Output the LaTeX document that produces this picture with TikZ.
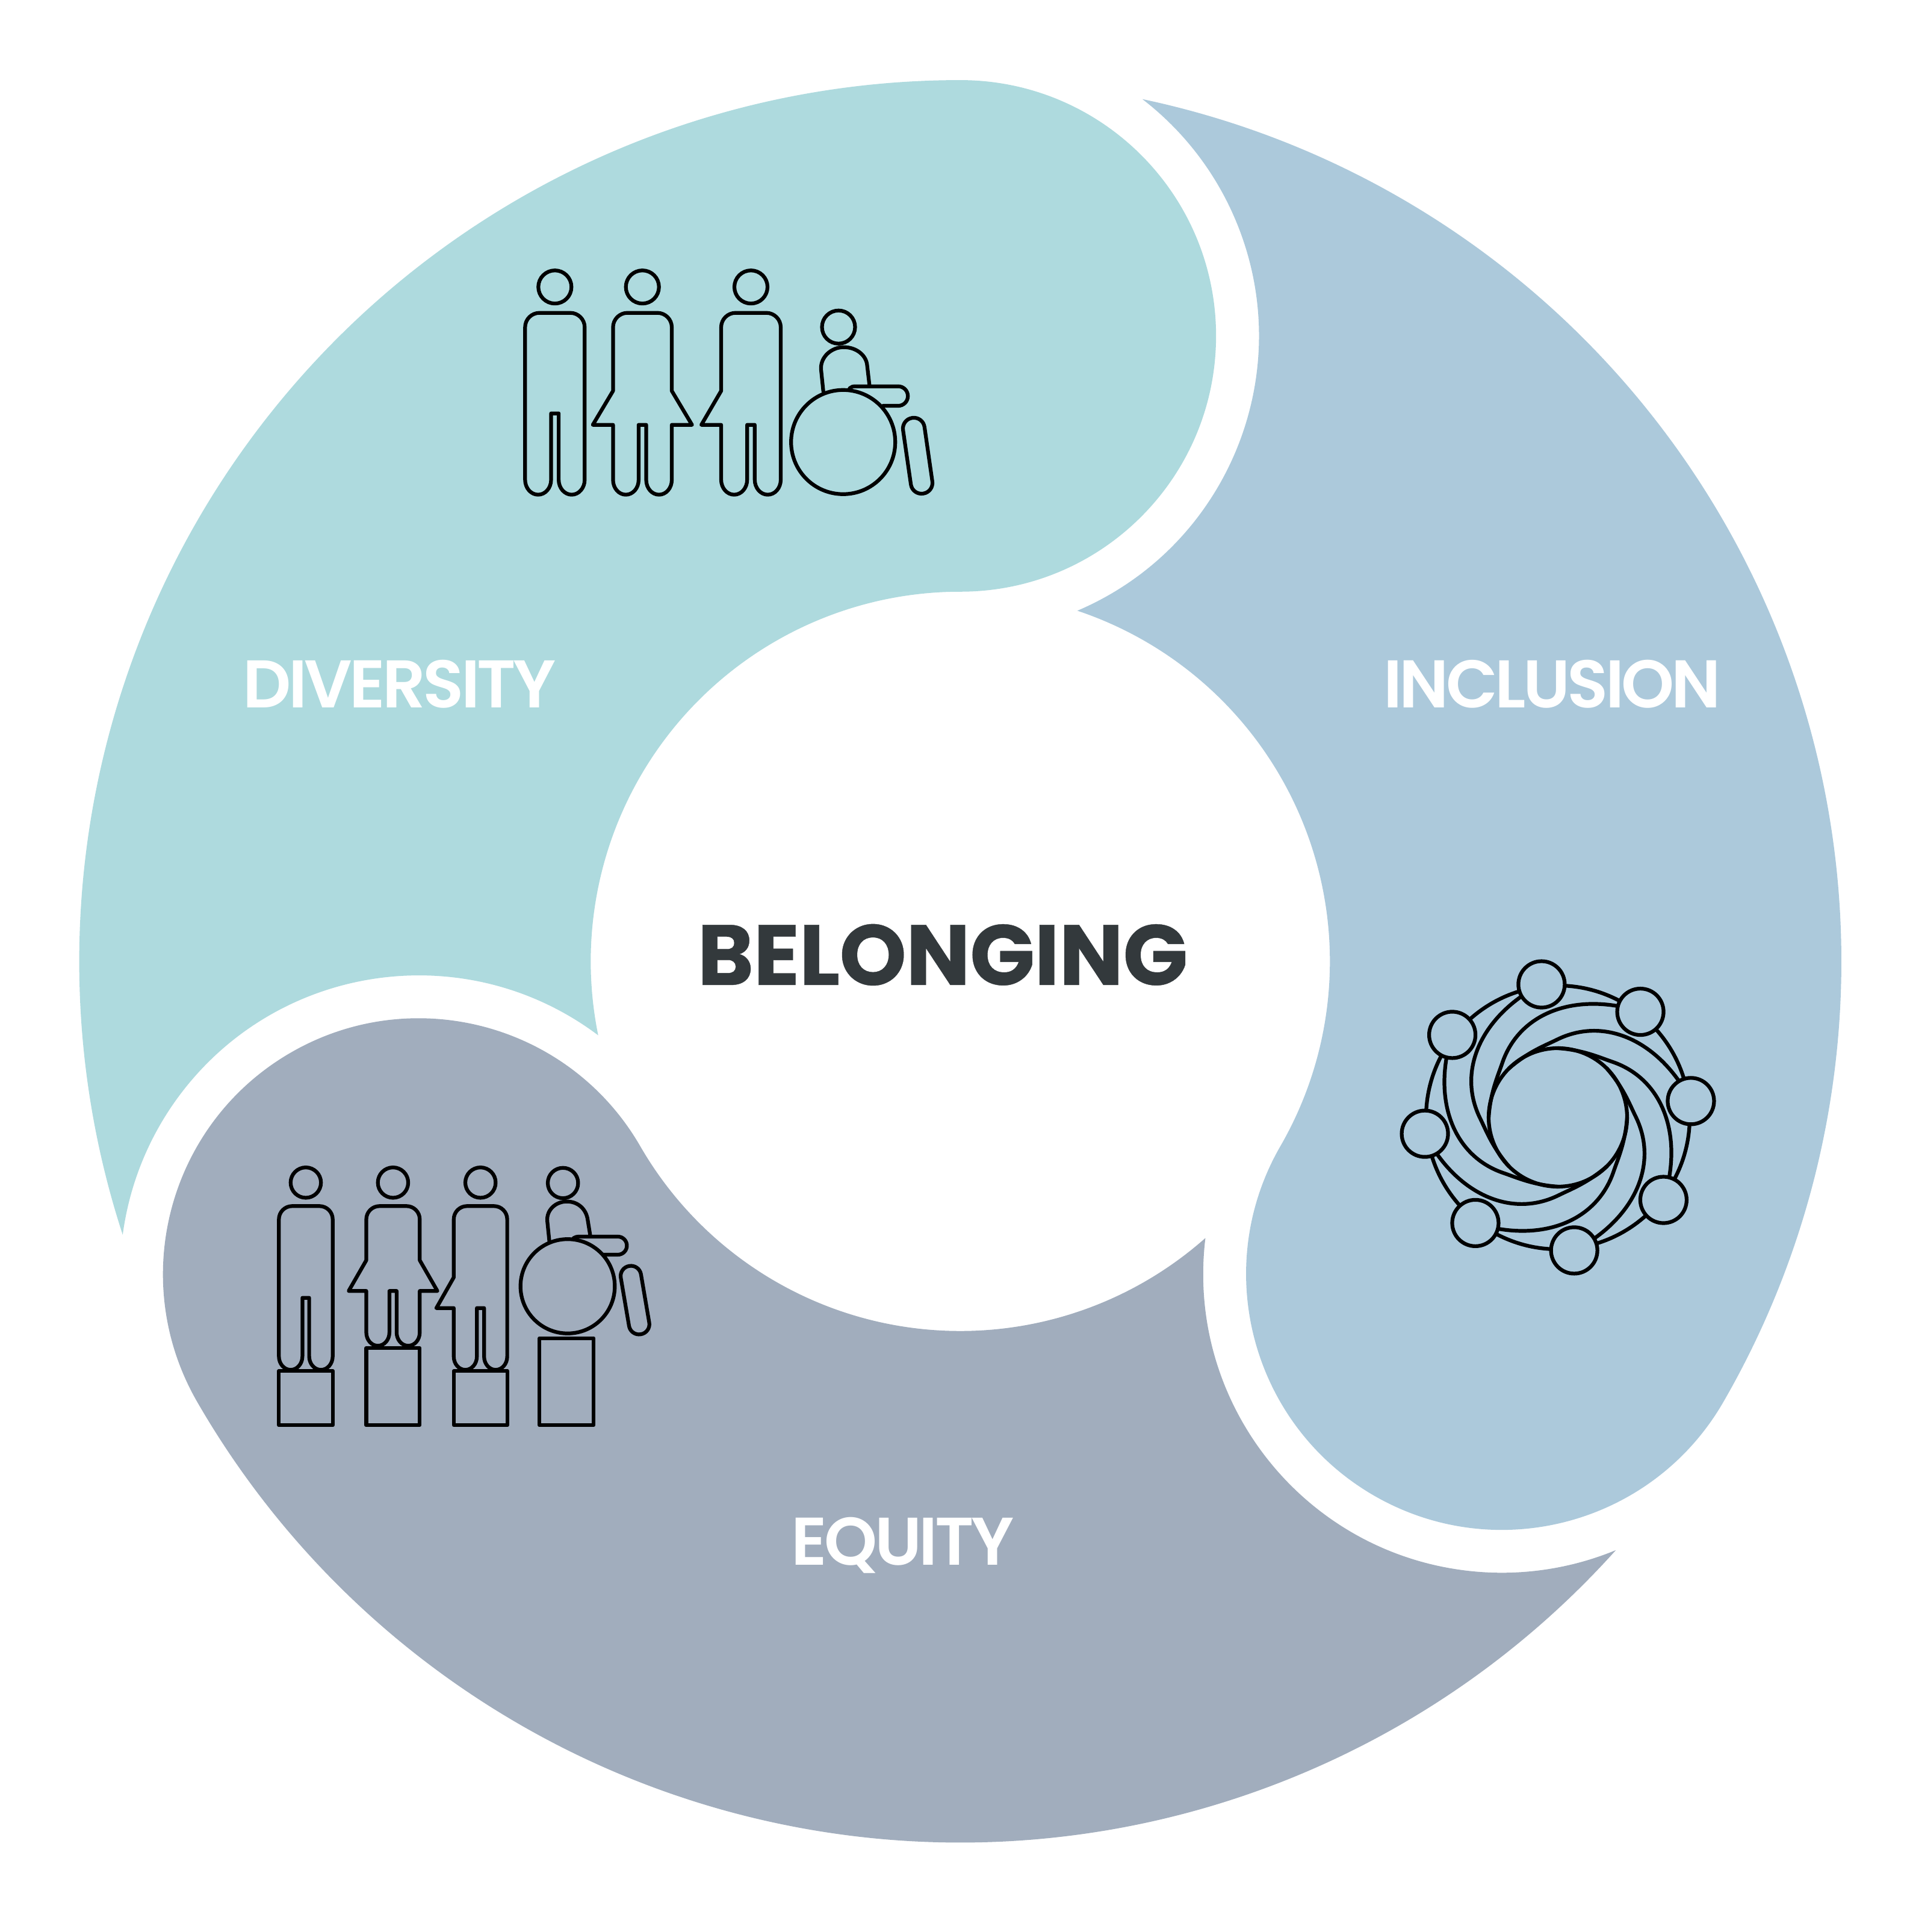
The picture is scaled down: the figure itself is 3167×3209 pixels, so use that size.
\documentclass[tikz,border=0pt]{standalone}
\usepackage{fontspec}
\setmainfont{Poppins}
\newfontfamily\labfont{Poppins SemiBold}[LetterSpace=-4.2]
\newfontfamily\titlefont{Poppins Bold}[LetterSpace=-0.6,FakeBold=0.3]
\definecolor{divcol}{HTML}{AEDADE}
\definecolor{inccol}{HTML}{ACC9DB}
\definecolor{equcol}{HTML}{A1ADBD}
\definecolor{darktxt}{HTML}{33393C}
\tikzset{
 icon/.style={draw=black,line width=6.2pt,line join=round,line cap=round},
 label/.style={text=white,inner sep=0pt,anchor=base,font=\labfont\fontsize{112}{112}\selectfont},
}
% standing figures: #1 = centre x, #2 = top y, #3 half width, #4 height, #5 slit half width, #6 slit top, #7 corner r
\newcommand{\mfig}[7]{\pgfmathsetmacro{\lr}{(#3-#5)/2}%
 \draw[icon] (#1-#3,#2+#7) arc[start angle=180,end angle=270,radius=#7] -- (#1+#3-#7,#2)
 arc[start angle=270,end angle=360,radius=#7] -- (#1+#3,#2+#4-1.15*\lr)
 arc[start angle=0,end angle=180,x radius=\lr,y radius=1.15*\lr] -- (#1+#5,#2+#6) -- (#1-#5,#2+#6) -- (#1-#5,#2+#4-1.15*\lr)
 arc[start angle=0,end angle=180,x radius=\lr,y radius=1.15*\lr] -- cycle;}
% #8 waist y, #9 flare half width
\newcommand{\ffig}[9]{\pgfmathsetmacro{\lr}{(#3-#5)/2}%
 \draw[icon] (#1-#3,#2+#7) arc[start angle=180,end angle=270,radius=#7] -- (#1+#3-#7,#2)
 arc[start angle=270,end angle=360,radius=#7] -- (#1+#3,#2+#8) -- (#1+#9,#2+#6) -- (#1+#3,#2+#6) -- (#1+#3,#2+#4-1.15*\lr)
 arc[start angle=0,end angle=180,x radius=\lr,y radius=1.15*\lr] -- (#1+#5,#2+#6) -- (#1-#5,#2+#6) -- (#1-#5,#2+#4-1.15*\lr)
 arc[start angle=0,end angle=180,x radius=\lr,y radius=1.15*\lr] -- (#1-#3,#2+#6) -- (#1-#9,#2+#6) -- (#1-#3,#2+#8) -- cycle;}
\newcommand{\hfig}[9]{\pgfmathsetmacro{\lr}{(#3-#5)/2}%
 \draw[icon] (#1-#3,#2+#7) arc[start angle=180,end angle=270,radius=#7] -- (#1+#3-#7,#2)
 arc[start angle=270,end angle=360,radius=#7] -- (#1+#3,#2+#4-1.15*\lr)
 arc[start angle=0,end angle=180,x radius=\lr,y radius=1.15*\lr] -- (#1+#5,#2+#6) -- (#1-#5,#2+#6) -- (#1-#5,#2+#4-1.15*\lr)
 arc[start angle=0,end angle=180,x radius=\lr,y radius=1.15*\lr] -- (#1-#3,#2+#6) -- (#1-#9,#2+#6) -- (#1-#3,#2+#8) -- cycle;}
\begin{document}
\begin{tikzpicture}[x=1pt,y=1pt]
\useasboundingbox (0,0) rectangle (3167,3209);
\fill[white] (0,0) rectangle (3167,3209);
% three petals
\begin{scope}[shift={(1595.3,1612.2)}]
 \foreach \rot/\col in {0/divcol,-120/inccol,120/equcol}{
  \fill[\col,rotate=\rot] (198.06:1463.7) arc[start angle=198.06,end angle=90,radius=1463.7]
   arc[start angle=90,end angle=-90,radius=424.85]
   arc[start angle=90,end angle=191.54,radius=614]
   arc[start angle=53.08,end angle=172.42,radius=496.2] -- cycle;
 }
\end{scope}
% inclusion icon
\begin{scope}[shift={(2588,1353)}]
 \draw[icon] (0,0) circle[radius=219];
 \foreach \a in {0,45,...,315}{
  \draw[icon,rotate=\a] (-176,136) .. controls (-209,31.5) and (-175.5,-63.7) .. (-90,-92.5)
    .. controls (-68,-100) and (-42,-112) .. (0,-115);
 }
 \draw[icon] (0,0) circle[radius=115];
 \foreach \i in {0,...,7}{
  \pgfmathsetmacro{\ang}{97-45*\i}
  \node[circle,draw=black,line width=6.2pt,fill=inccol,minimum size=77pt,inner sep=0pt] (n\i) at (\ang:222.6) {};
 }
\end{scope}
% people, in y-down pixel coordinates
\begin{scope}[y=-1pt,yshift=3209pt]
 % diversity group
 \node[circle,icon,minimum size=55pt,inner sep=0pt] (dh1) at (921.8,476.7) {};
 \node[circle,icon,minimum size=55pt,inner sep=0pt] (dh2) at (1067.2,476.7) {};
 \node[circle,icon,minimum size=55pt,inner sep=0pt] (dh3) at (1247.5,476.7) {};
 \mfig{921.8}{519.7}{49.5}{302}{6.3}{167}{24}
 \ffig{1067.2}{519.7}{48.8}{302}{6.3}{186}{24}{129.6}{82.4}
 \hfig{1247.5}{519.7}{49.5}{302}{6.3}{186}{24}{129.6}{82.4}
 \node[circle,icon,minimum size=55pt,inner sep=0pt] (dh4) at (1393,543.3) {};
 \draw[icon] (1367.7,650) -- (1363.9,613) .. controls (1363,593) and (1381,576.7) .. (1401.7,576.7)
   .. controls (1422.5,576.7) and (1439,590) .. (1440.5,606.7) -- (1444.3,639.3);
 \draw[icon] (1411.4,645) .. controls (1414,642.5) and (1417,641.7) .. (1421,641.7) -- (1492,641.7)
   arc[start angle=270,end angle=450,radius=16.2] -- (1467,674);
 \node[circle,icon,minimum size=173pt,inner sep=0pt] (dw) at (1400.7,734.3) {};
 \draw[icon,shift={(1524.5,757)},rotate=8.2,rounded corners=17.8pt] (-18,-63.5) rectangle (18,63.5);
 % equity group
 \node[circle,icon,minimum size=50.4pt,inner sep=0pt] (eh1) at (508,1964.3) {};
 \node[circle,icon,minimum size=50.4pt,inner sep=0pt] (eh2) at (652.9,1964.3) {};
 \node[circle,icon,minimum size=50.4pt,inner sep=0pt] (eh3) at (798.2,1964.3) {};
 \node[circle,icon,minimum size=50.4pt,inner sep=0pt] (eh4) at (935.2,1965) {};
 \mfig{508}{2003.3}{44.7}{272}{5.6}{152.4}{22}
 \ffig{652.9}{2003.3}{44.4}{232}{6}{141}{22}{90}{73.7}
 \hfig{798.2}{2003.3}{44.4}{272}{6}{169.4}{22}{118.4}{73.3}
 \draw[icon] (463.3,2277.3) rectangle (552.7,2367.3);
 \draw[icon] (608.5,2239) rectangle (697.3,2367.3);
 \draw[icon] (753.8,2277.3) rectangle (842.6,2367.3);
 \draw[icon] (896.3,2222.7) rectangle (986.3,2367.3);
 \draw[icon] (912.6,2061.7) -- (909.2,2028.3) .. controls (907.5,2010) and (923,1995.7) .. (941.7,1995.7)
   .. controls (960,1995.7) and (974,2008) .. (976.4,2026.7) -- (980.7,2053.3);
 \draw[icon] (952.5,2056.7) .. controls (955,2054.8) and (958,2054) .. (962,2054) -- (1026.4,2054)
   arc[start angle=270,end angle=450,radius=15] -- (1002.4,2084);
 \node[circle,icon,minimum size=156.6pt,inner sep=0pt] (ew) at (943,2136.5) {};
 \draw[icon,shift={(1054.9,2159.5)},rotate=9.7,rounded corners=16.8pt] (-17,-57.5) rectangle (17,57.5);
 % labels
 \node[label] (ldiv) at (663.5,1175.7) {DIVERSITY};
 \node[label] (linc) at (2578.5,1175.7) {INCLUSION};
 \node[label] (lequ) at (1499.5,2600) {EQUITY};
 \node[text=darktxt,inner sep=0pt,anchor=base,font=\titlefont\fontsize{142}{142}\selectfont] (lbel) at (1566,1636) {BELONGING};
\end{scope}
\end{tikzpicture}
\end{document}
